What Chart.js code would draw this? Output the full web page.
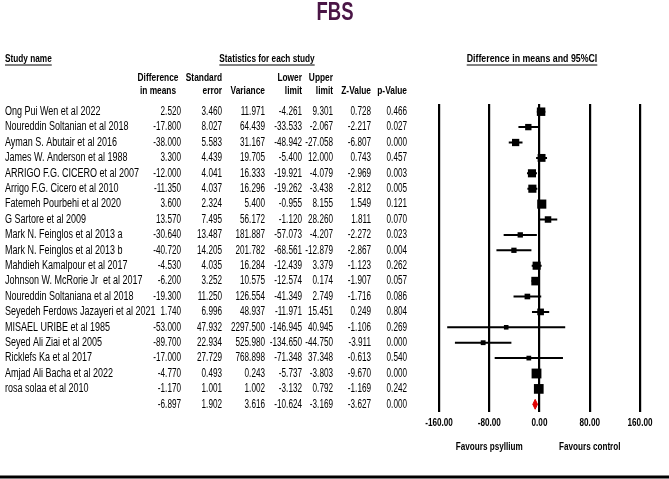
<!DOCTYPE html>
<html>
<head>
<meta charset="utf-8">
<script src="https://cdn.jsdelivr.net/npm/chart.js@4/dist/chart.umd.min.js"></script>
<style>
  html, body { margin: 0; padding: 0; background: #fff; }
  #wrap { width: 669px; height: 479px; }
</style>
</head>
<body>
<div id="wrap"><canvas id="chart" width="669" height="479"></canvas></div>
<script>
// study rows, top to bottom (last row = pooled estimate)
const studies = [
    "Ong Pui Wen et al 2022", "Noureddin Soltanian et al 2018", "Ayman S. Abutair et al 2016",
    "James W. Anderson et al 1988", "ARRIGO F.G. CICERO et al 2007", "Arrigo F.G. Cicero et al 2010",
    "Fatemeh Pourbehi et al 2020", "G Sartore et al 2009", "Mark N. Feinglos et al 2013 a",
    "Mark N. Feinglos et al 2013 b", "Mahdieh Kamalpour et al 2017", "Johnson W. McRorie Jr  et al 2017",
    "Noureddin Soltaniana et al 2018", "Seyedeh Ferdows Jazayeri et al 2021", "MISAEL URIBE et al 1985",
    "Seyed Ali Ziai et al 2005", "Ricklefs Ka et al 2017", "Amjad Ali Bacha et al 2022",
    "rosa solaa et al 2010", ""
];
const diffMeans = [2.520, -17.800, -38.000, 3.300, -12.000, -11.350, 3.600, 13.570, -30.640, -40.720,
    -4.530, -6.200, -19.300, 1.740, -53.000, -89.700, -17.000, -4.770, -1.170, -6.897];
const stdError = [3.460, 8.027, 5.583, 4.439, 4.041, 4.037, 2.324, 7.495, 13.487, 14.205,
    4.035, 3.252, 11.250, 6.996, 47.932, 22.934, 27.729, 0.493, 1.001, 1.902];
const variance = [11.971, 64.439, 31.167, 19.705, 16.333, 16.296, 5.400, 56.172, 181.887, 201.782,
    16.284, 10.575, 126.554, 48.937, 2297.500, 525.980, 768.898, 0.243, 1.002, 3.616];
const lowerLimit = [-4.261, -33.533, -48.942, -5.400, -19.921, -19.262, -0.955, -1.120, -57.073, -68.561,
    -12.439, -12.574, -41.349, -11.971, -146.945, -134.650, -71.348, -5.737, -3.132, -10.624];
const upperLimit = [9.301, -2.067, -27.058, 12.000, -4.079, -3.438, 8.155, 28.260, -4.207, -12.879,
    3.379, 0.174, 2.749, 15.451, 40.945, -44.750, 37.348, -3.803, 0.792, -3.169];
const zValue = [0.728, -2.217, -6.807, 0.743, -2.969, -2.812, 1.549, 1.811, -2.272, -2.867,
    -1.123, -1.907, -1.716, 0.249, -1.106, -3.911, -0.613, -9.670, -1.169, -3.627];
const pValue = [0.466, 0.027, 0.000, 0.457, 0.003, 0.005, 0.121, 0.070, 0.023, 0.004,
    0.262, 0.057, 0.086, 0.804, 0.269, 0.000, 0.540, 0.000, 0.242, 0.000];
const xTicks = [-160, -80, 0, 80, 160];

const FONT = '"Liberation Sans", Arial, sans-serif';
const nStudy = studies.length - 1;
const pooled = nStudy;

// random-effects weights -> box size
const tau2 = 33.5;
const boxSide = variance.slice(0, nStudy).map(v => 4.5 + 180 / (v + tau2));

const ciData = [];
for (let i = 0; i < nStudy; i++) {
    ciData.push({ x: lowerLimit[i], y: i }, { x: upperLimit[i], y: i }, { x: null, y: null });
}
const boxData = diffMeans.slice(0, nStudy).map((d, i) => ({ x: d, y: i }));
const dh = 0.32;
const diamond = [
    { x: lowerLimit[pooled], y: pooled },
    { x: diffMeans[pooled], y: pooled - dh },
    { x: upperLimit[pooled], y: pooled },
    { x: diffMeans[pooled], y: pooled + dh },
    { x: lowerLimit[pooled], y: pooled }
];

// condensed text: Arial-like glyphs squeezed horizontally
function narrowText(ctx, txt, x, y, align, sx) {
    ctx.save();
    ctx.translate(x, y);
    ctx.scale(sx, 1);
    ctx.textAlign = align;
    ctx.fillText(txt, 0, 0);
    ctx.restore();
    return ctx.measureText(txt).width * sx;
}

const tablePlugin = {
    id: "table",
    afterDraw(chart) {
        const ctx = chart.ctx;
        const ys = chart.scales.y;
        const xs = chart.scales.x;
        ctx.save();
        ctx.textBaseline = "middle";
        ctx.strokeStyle = "#000";

        // title
        ctx.fillStyle = "#4a1646";
        ctx.font = "bold 25px " + FONT;
        narrowText(ctx, "FBS", 335, 13, "center", 0.74);

        ctx.fillStyle = "#000";
        ctx.font = "bold 11px " + FONT;
        const underline = (txt, x, y, align, sx) => {
            const w = narrowText(ctx, txt, x, y, align, sx);
            const x0 = align === "center" ? x - w / 2 : x;
            ctx.lineWidth = 1;
            ctx.beginPath();
            ctx.moveTo(x0, y + 6);
            ctx.lineTo(x0 + w, y + 6);
            ctx.stroke();
        };
        underline("Study name", 5, 59, "left", 0.75);
        underline("Statistics for each study", 267, 59, "center", 0.75);
        underline("Difference in means and 95%CI", 532, 59, "center", 0.8);

        const colX = [181, 222, 265, 302, 333, 371, 407];
        const headX = [158, 222, 265, 302, 333, 371, 407];
        const headAlign = ["center", "right", "right", "right", "right", "right", "right"];
        const head1 = ["Difference", "Standard", "", "Lower", "Upper", "", ""];
        const head2 = ["in means", "error", "Variance", "limit", "limit", "Z-Value", "p-Value"];
        headX.forEach((x, c) => {
            narrowText(ctx, head1[c], x, 78, headAlign[c], 0.76);
            narrowText(ctx, head2[c], x, 91, headAlign[c], 0.76);
        });

        ctx.font = "12px " + FONT;
        const cols = [diffMeans, stdError, variance, lowerLimit, upperLimit, zValue, pValue];
        studies.forEach((name, i) => {
            const y = ys.getPixelForValue(i);
            narrowText(ctx, name, 5, y, "left", 0.75);
            cols.forEach((arr, c) => narrowText(ctx, arr[i].toFixed(3), colX[c], y, "right", 0.68));
        });

        // axis tick labels and favours labels
        ctx.font = "bold 11px " + FONT;
        const base = chart.chartArea.bottom;
        xTicks.forEach(v => narrowText(ctx, v.toFixed(2), xs.getPixelForValue(v), base + 11, "center", 0.74));
        narrowText(ctx, "Favours psyllium", xs.getPixelForValue(-80), base + 35, "center", 0.74);
        narrowText(ctx, "Favours control", xs.getPixelForValue(80), base + 35, "center", 0.74);

        // bottom rule
        ctx.lineWidth = 3;
        ctx.beginPath();
        ctx.moveTo(0, 477);
        ctx.lineTo(669, 477);
        ctx.stroke();
        ctx.restore();
    }
};

new Chart(document.getElementById("chart").getContext("2d"), {
    type: "scatter",
    data: {
        datasets: [
            {
                data: ciData, showLine: true, spanGaps: false,
                borderColor: "#000", borderWidth: 2, pointRadius: 0
            },
            {
                data: boxData, pointStyle: "rect",
                pointRadius: boxSide.map(s => s / (2 * Math.SQRT1_2)),
                backgroundColor: "#000", borderColor: "#000", borderWidth: 0
            },
            {
                data: diamond, showLine: true, fill: "shape",
                borderColor: "#e00000", backgroundColor: "#e00000", borderWidth: 1, pointRadius: 0
            }
        ]
    },
    options: {
        responsive: false,
        animation: false,
        events: [],
        layout: { padding: { left: 439, right: 29, top: 104, bottom: 0 } },
        plugins: { legend: { display: false }, tooltip: { enabled: false } },
        scales: {
            x: {
                type: "linear", min: -160, max: 160,
                afterBuildTicks: (s) => { s.ticks = xTicks.map(v => ({ value: v })); },
                afterFit: (s) => { s.height = 67; },
                ticks: { display: false },
                grid: { color: "#000", lineWidth: 2.2, drawTicks: false },
                border: { display: false }
            },
            y: {
                type: "linear", min: -0.5, max: studies.length - 0.5, reverse: true,
                display: false
            }
        }
    },
    plugins: [tablePlugin]
});
</script>
</body>
</html>
